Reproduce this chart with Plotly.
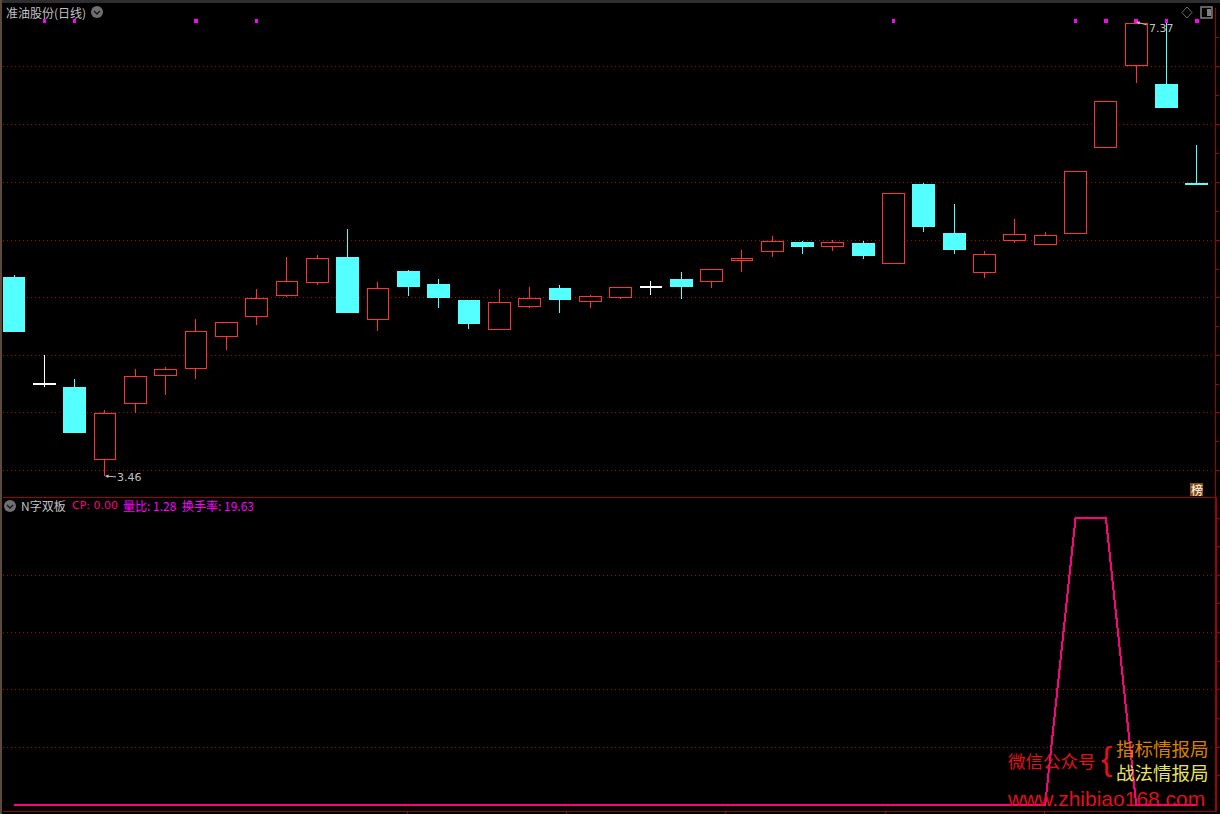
import plotly.graph_objects as go

# ---- daily candles (price) ----
kinds = ["c","w","c","r","r","r","r","r","r","r","r","c","r","c","c","c","r","r","c","r",
         "r","w","c","r","r","r","c","r","c","r","c","c","r","r","r","r","r","r","c","c"]
highs = [5.191,4.502,4.295,4.028,4.381,4.399,4.812,4.786,5.070,5.346,5.363,5.587,5.131,5.234,5.157,4.976,5.070,5.088,5.105,5.019,
         5.088,5.139,5.217,5.243,5.406,5.527,5.484,5.492,5.484,5.897,5.983,5.802,5.398,5.673,5.561,6.087,6.690,7.370,7.370,6.311]
tops  = [5.174,4.257,4.226,4.003,4.321,4.381,4.709,4.786,4.993,5.139,5.337,5.346,5.079,5.225,5.114,4.976,4.958,4.993,5.079,5.010,
         5.088,5.092,5.157,5.243,5.337,5.484,5.475,5.475,5.467,5.897,5.975,5.553,5.372,5.544,5.535,6.087,6.690,7.361,6.836,5.983]
bots  = [4.700,4.248,3.830,3.598,4.080,4.321,4.381,4.657,4.829,5.010,5.122,4.864,4.803,5.088,4.993,4.769,4.717,4.915,4.976,4.958,
         4.993,5.083,5.088,5.131,5.312,5.389,5.432,5.432,5.355,5.286,5.604,5.406,5.208,5.484,5.449,5.544,6.285,6.991,6.629,5.966]
lows  = [4.700,4.226,3.830,3.460,4.003,4.158,4.295,4.545,4.760,5.002,5.105,4.864,4.709,5.010,4.907,4.726,4.717,4.907,4.864,4.907,
         4.984,5.019,4.984,5.079,5.217,5.346,5.372,5.398,5.329,5.286,5.561,5.372,5.165,5.467,5.449,5.544,6.285,6.844,6.629,5.966]
signal_idx = [1, 2, 6, 8, 29, 35, 36, 37, 38, 39]
signal_price = 7.378

# ---- lower panel ----
cp_values = [0]*35 + [1, 1] + [0]*3

# ---- axes ----
price_ticks = [6.987, 6.487, 5.988, 5.488, 4.993, 4.498, 4.003, 3.503]
price_minor = [6.737, 6.237, 5.738, 5.240, 4.745, 4.250, 3.753, 7.237]
cp_ticks = [0.2, 0.4, 0.6, 0.8]
cp_minor = [0.1, 0.3, 0.5, 0.7, 0.9, 1.0]
date_ticks = [12.96, 18.2, 23.46, 28.72, 33.96]

RED, CYAN, WHITE = "#ff3232", "#54ffff", "#ffffff"
AXIS = "#a00000"
GREY = "#c0c0c0"
CJK = "Noto Sans CJK SC"
W, H = 1220, 814
COL = {"r": RED, "c": CYAN, "w": WHITE}
FILL = {"r": "#000000", "c": CYAN, "w": WHITE}
idx = list(range(len(kinds)))
INSET = 0.003  # stroke half-width allowance on body edges

fig = go.Figure()
fig.add_trace(go.Bar(x=idx, base=lows, y=[h - l for h, l in zip(highs, lows)], width=1 / 30.33,
                     marker=dict(color=[COL[k] for k in kinds], line=dict(color=[COL[k] for k in kinds], width=0.02)),
                     xaxis="x", yaxis="y"))
fig.add_trace(go.Bar(x=idx, base=[b + INSET for b in bots], y=[t - b - 2 * INSET for t, b in zip(tops, bots)], width=0.72,
                     marker=dict(color=[FILL[k] for k in kinds],
                                 line=dict(color=[COL[k] for k in kinds], width=1)),
                     xaxis="x", yaxis="y"))
fig.add_trace(go.Scatter(x=signal_idx, y=[signal_price]*len(signal_idx), mode="markers",
                         marker=dict(symbol="square", size=3.6, color="#ff00ff", line=dict(width=0)),
                         xaxis="x", yaxis="y"))
fig.add_trace(go.Scatter(x=idx, y=cp_values, mode="lines", line=dict(color="#ff0080", width=2),
                         xaxis="x2", yaxis="y2"))


def px(x):
    return x / W


def py(y):
    return 1 - y / H


def label(x, y, text, color=GREY, size=12, family=CJK, anchor="left", **kw):
    return dict(x=px(x), y=py(y), xref="paper", yref="paper", text=text, showarrow=False,
                xanchor=anchor, yanchor="middle", font=dict(color=color, size=size, family=family),
                borderpad=0, **kw)


annotations = [
    label(5, 12, "准油股份(日线)", size=12),
    label(20, 505, "N字双板", size=12),
    label(71, 505, "CP: 0.00", color="#ff0080", size=11, family="DejaVu Sans"),
    label(122, 505, "量比: 1.28", color="#ff00ff", size=12),
    label(181, 505, "换手率: 19.63", color="#ff00ff", size=12),
    label(1007, 760, "微信公众号", color="#e0101c", size=17.5),
    label(1100, 758, "{", color="#e0101c", size=34, family="Liberation Sans"),
    label(1115, 748, "指标情报局", color="#d98000", size=18.5),
    label(1115, 772, "战法情报局", color="#e8e060", size=18.5),
    label(1006, 798, "www.zhibiao168.com", color="#e0101c", size=21, family="Liberation Sans"),
    label(1196.5, 489, "榜", color="#ffffff", size=12, anchor="center"),
    dict(x=3, y=3.46, xref="x", yref="y", text="3.46", showarrow=True, ax=25, ay=2, arrowhead=2,
         arrowsize=0.7, arrowwidth=1, arrowcolor=GREY, standoff=0,
         font=dict(color=GREY, size=11, family="DejaVu Sans")),
    dict(x=37, y=7.37, xref="x", yref="y", text="7.37", showarrow=True, ax=25, ay=7, arrowhead=2,
         arrowsize=0.7, arrowwidth=1, arrowcolor=GREY, standoff=0,
         font=dict(color=GREY, size=11, family="DejaVu Sans")),
]


def circle_button(cx, cy):
    return [
        dict(type="circle", xref="paper", yref="paper", x0=px(cx - 6), x1=px(cx + 6), y0=py(cy + 6), y1=py(cy - 6),
             fillcolor="#707070", line=dict(width=0)),
        dict(type="path", xref="paper", yref="paper",
             path=f"M {px(cx-3)} {py(cy-1)} L {px(cx)} {py(cy+2)} L {px(cx+3)} {py(cy-1)}",
             line=dict(color="#1a1a1a", width=1.5)),
    ]


shapes = [
    dict(type="rect", xref="paper", yref="paper", x0=0, x1=1, y0=py(3), y1=1, fillcolor="#2e2e2e", line=dict(width=0)),
    dict(type="rect", xref="paper", yref="paper", x0=0, x1=px(2), y0=0, y1=1, fillcolor="#5c4a3c", line=dict(width=0)),
    dict(type="path", xref="paper", yref="paper",
         path=f"M {px(1187)} {py(7)} L {px(1192)} {py(12.5)} L {px(1187)} {py(18)} L {px(1182)} {py(12.5)} Z",
         line=dict(color="#707070", width=1)),
    dict(type="rect", xref="paper", yref="paper", x0=px(1201), x1=px(1212), y0=py(18), y1=py(7),
         line=dict(color="#808080", width=1.5)),
    dict(type="rect", xref="paper", yref="paper", x0=px(1207), x1=px(1211), y0=py(16), y1=py(9),
         fillcolor="#808080", line=dict(width=0)),
    dict(type="rect", xref="paper", yref="paper", x0=px(1190), x1=px(1203), y0=py(496), y1=py(483),
         fillcolor="#8a4b10", line=dict(width=0), layer="below"),
] + circle_button(97, 12) + circle_button(10, 506)

x_range = [-0.3627, 39.598]
x_dom = [3 / W, 1215 / W]
grid = dict(showgrid=True, gridcolor="#b00000", griddash="1px,3px", gridwidth=1)

fig.update_layout(
    width=W, height=H, autosize=False, margin=dict(l=0, r=0, t=0, b=0),
    paper_bgcolor="#000000", plot_bgcolor="rgba(0,0,0,0)", showlegend=False, hovermode=False,
    barmode="overlay", annotations=annotations, shapes=shapes,
    xaxis=dict(domain=x_dom, range=x_range, anchor="y", showgrid=False, zeroline=False, showticklabels=False,
               showline=True, linecolor=AXIS, linewidth=1, ticks=""),
    xaxis2=dict(domain=x_dom, range=x_range, anchor="y2", showgrid=False, zeroline=False, showticklabels=False,
                showline=True, linecolor=AXIS, linewidth=1, tickmode="array", tickvals=date_ticks,
                ticks="outside", ticklen=3, tickcolor=AXIS, tickwidth=1),
    yaxis=dict(domain=[py(497), py(8)], range=[3.279, 7.490], anchor="x", side="right", zeroline=False,
               showticklabels=False, showline=True, linecolor=AXIS, linewidth=1, tickmode="array",
               tickvals=price_ticks, ticks="outside", ticklen=5, tickcolor=AXIS, tickwidth=1,
               minor=dict(tickmode="array", tickvals=price_minor, ticks="outside", ticklen=3, tickcolor=AXIS,
                          showgrid=False), **grid),
    yaxis2=dict(domain=[py(811), py(497)], range=[-0.0227, 1.0733], anchor="x2", side="right", zeroline=False,
                showticklabels=False, showline=True, linecolor=AXIS, linewidth=2, tickmode="array",
                tickvals=cp_ticks, ticks="outside", ticklen=5, tickcolor=AXIS, tickwidth=1,
                minor=dict(tickmode="array", tickvals=cp_minor, ticks="outside", ticklen=3, tickcolor=AXIS,
                           showgrid=False), **grid),
)

crisp_css = ".bars path,.js-line,.points path{shape-rendering:crispEdges !important}"
fig.write_html("out.html", config={"displayModeBar": False},
               post_script="document.body.style.margin='0';document.body.style.background='#000';"
                           "document.body.style.overflow='hidden';"
                           "var s=document.createElement('style');s.textContent='" + crisp_css + "';document.head.appendChild(s);")
